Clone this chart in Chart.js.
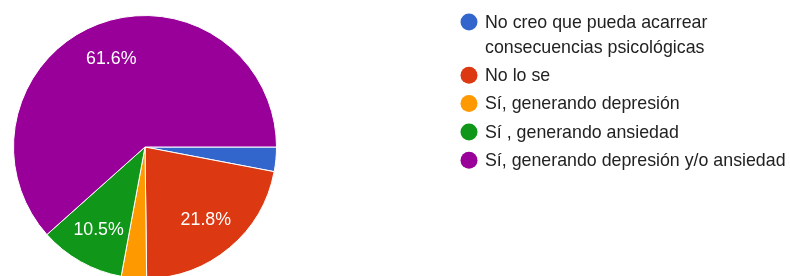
<!DOCTYPE html>
<html>
<head>
<meta charset="utf-8">
<script src="https://cdn.jsdelivr.net/npm/chart.js@4"></script>
<style>
  html, body { margin: 0; padding: 0; background: #fff; overflow: hidden; }
  #wrap { width: 790px; height: 276px; overflow: hidden; }
</style>
</head>
<body>
<div id="wrap"><canvas id="pie" width="790" height="300"></canvas></div>
<script>
// Categories and values (percent)
const categories = [
  "No creo que pueda acarrear consecuencias psicológicas",
  "No lo se",
  "Sí, generando depresión",
  "Sí , generando ansiedad",
  "Sí, generando depresión y/o ansiedad"
];
const values = [3.0, 21.8, 3.1, 10.5, 61.6];
const colors = ["#3366cc", "#dc3912", "#ff9900", "#109618", "#990099"];

const FONT = '17.8px "Liberation Sans", Arial, sans-serif';

// percent labels inside the bigger slices
const sliceLabels = {
  id: "sliceLabels",
  afterDatasetsDraw(chart) {
    const ctx = chart.ctx;
    const meta = chart.getDatasetMeta(0);
    ctx.save();
    ctx.font = FONT;
    ctx.fillStyle = "#fff";
    ctx.textAlign = "center";
    ctx.textBaseline = "middle";
    meta.data.forEach((arc, i) => {
      if (values[i] < 5) return;
      const mid = (arc.startAngle + arc.endAngle) / 2;
      const r = arc.outerRadius * 0.72;
      ctx.fillText(values[i].toFixed(1) + "%", arc.x + Math.cos(mid) * r, arc.y + Math.sin(mid) * r + 1);
    });
    ctx.restore();
  }
};

// legend on the right, with wrapped labels
const sideLegend = {
  id: "sideLegend",
  afterDraw(chart) {
    const ctx = chart.ctx;
    ctx.save();
    ctx.font = FONT;
    ctx.textBaseline = "middle";
    let y = 22;
    categories.forEach((label, i) => {
      // word wrap
      const words = label.split(" ");
      const lines = [];
      let line = "";
      words.forEach(w => {
        const test = line ? line + " " + w : w;
        if (ctx.measureText(test).width > 304 && line) {
          lines.push(line);
          line = w;
        } else {
          line = test;
        }
      });
      lines.push(line);

      ctx.fillStyle = colors[i];
      ctx.beginPath();
      ctx.arc(469, y, 8.5, 0, Math.PI * 2);
      ctx.fill();

      ctx.fillStyle = "#222";
      lines.forEach((l, j) => {
        ctx.fillText(l, 485, y + j * 25 + 1);
      });
      y += (lines.length - 1) * 25 + 28.3;
    });
    ctx.restore();
  }
};

new Chart(document.getElementById("pie"), {
  type: "pie",
  data: {
    labels: categories,
    datasets: [{
      data: values,
      backgroundColor: colors,
      borderColor: "#fff",
      borderWidth: 1
    }]
  },
  options: {
    responsive: false,
    animation: false,
    rotation: 90,
    layout: { padding: { left: 13, top: 15, right: 513, bottom: 21 } },
    plugins: {
      legend: { display: false },
      tooltip: { enabled: false }
    }
  },
  plugins: [sliceLabels, sideLegend]
});
</script>
</body>
</html>
